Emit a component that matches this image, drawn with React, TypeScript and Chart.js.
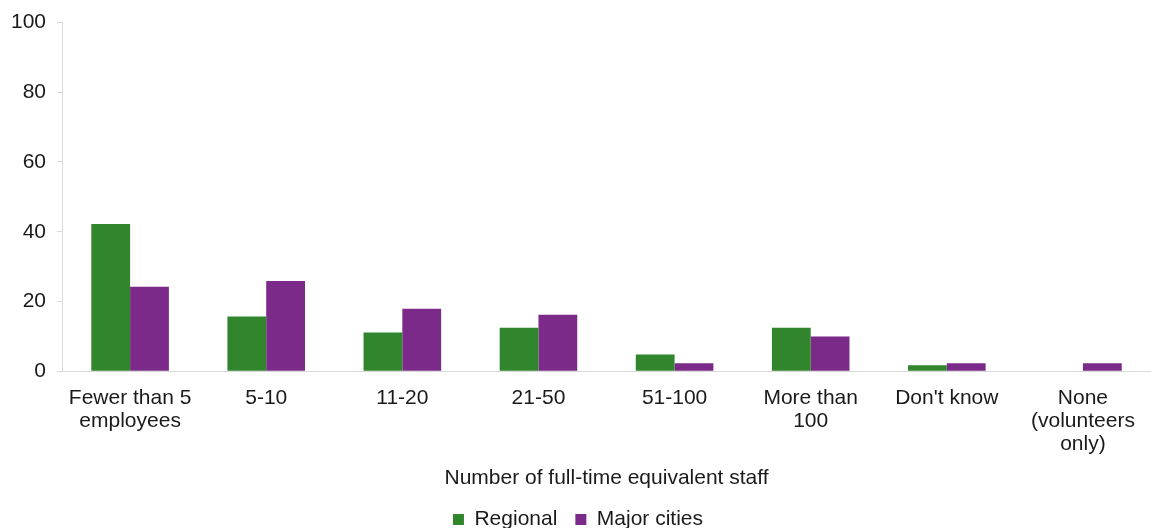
import React, { useEffect, useRef } from "react";
import { Chart, registerables } from "chart.js";

Chart.register(...registerables);

const categories: (string | string[])[] = [
  ["Fewer than 5", "employees"],
  "5-10",
  "11-20",
  "21-50",
  "51-100",
  ["More than", "100"],
  "Don't know",
  ["None", "(volunteers", "only)"],
];
const regional = [42.2, 15.7, 11.1, 12.5, 4.8, 12.5, 1.7, 0];
const majorCities = [24.2, 25.9, 17.9, 16.2, 2.3, 10.0, 2.3, 2.3];
const yTicks = [0, 20, 40, 60, 80, 100];

export default function App() {
  const ref = useRef<HTMLCanvasElement | null>(null);
  useEffect(() => {
    if (!ref.current) return;
    const font = { family: "'Liberation Sans', Arial, sans-serif", size: 21, lineHeight: 1.08 };
    const chart = new Chart(ref.current, {
      type: "bar",
      data: {
        labels: categories,
        datasets: [
          {
            label: "Regional",
            data: regional,
            backgroundColor: "#31852d",
            borderWidth: 0,
            barPercentage: 1,
            categoryPercentage: 0.57,
          },
          {
            label: "Major cities",
            data: majorCities,
            backgroundColor: "#7b2a89",
            borderWidth: 0,
            barPercentage: 1,
            categoryPercentage: 0.57,
          },
        ],
      },
      options: {
        animation: false,
        responsive: false,
        maintainAspectRatio: false,
        layout: { padding: { top: 5, right: -5, left: 0, bottom: -12 } },
        plugins: {
          legend: {
            position: "bottom",
            labels: {
              font,
              color: "#1a1a1a",
              boxWidth: 11,
              boxHeight: 11,
              padding: 18,
            },
          },
          tooltip: { enabled: false },
        },
        scales: {
          x: {
            grid: { display: false },
            border: { display: true, color: "#d9d9d9", width: 1 },
            ticks: { font, color: "#1a1a1a", maxRotation: 0, autoSkip: false, padding: 8 },
            title: {
              display: true,
              text: "Number of full-time equivalent staff",
              font,
              color: "#1a1a1a",
              padding: { top: 4, bottom: 1 },
            },
          },
          y: {
            min: 0,
            max: 100,
            afterBuildTicks: (axis: any) => {
              axis.ticks = yTicks.map((v) => ({ value: v }));
            },
            grid: {
              display: true,
              drawOnChartArea: false,
              drawTicks: true,
              tickLength: 5,
              color: "#d9d9d9",
            },
            border: { display: true, color: "#d9d9d9", width: 1 },
            ticks: { font, color: "#1a1a1a", padding: 11 },
          },
        },
      },
    } as any);
    return () => chart.destroy();
  }, []);
  return (
    <div style={{ position: "fixed", left: 0, top: 0, width: 1151, height: 528, background: "#fff" }}>
      <canvas ref={ref} width={1151} height={528} style={{ width: 1151, height: 528 }} />
    </div>
  );
}
